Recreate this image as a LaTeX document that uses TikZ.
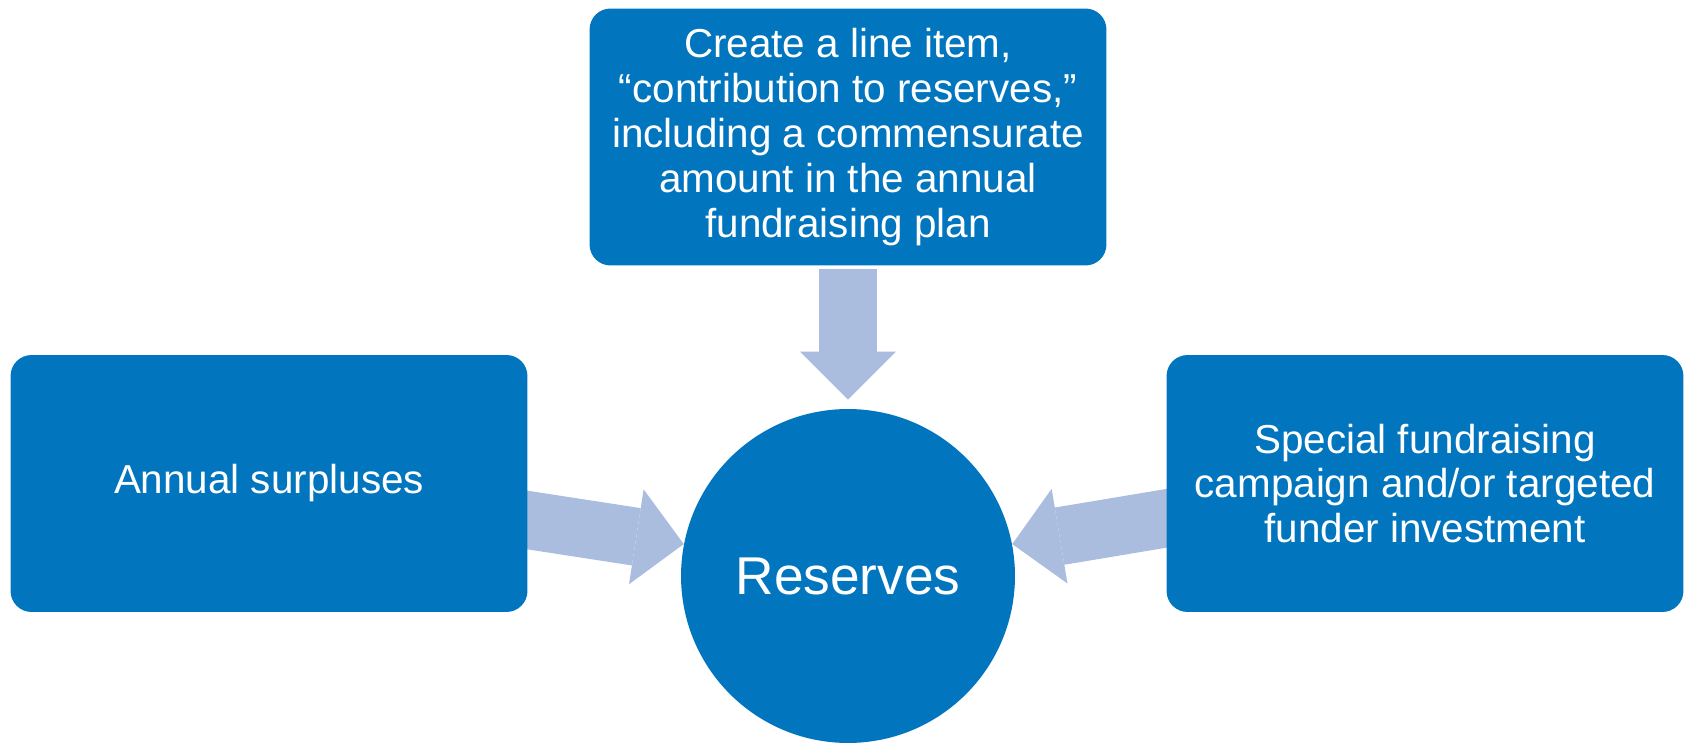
\documentclass[tikz,border=0pt]{standalone}
\usepackage{fontspec}
\setmainfont{Liberation Sans}
\usetikzlibrary{arrows.meta,positioning,backgrounds}
\definecolor{boxblue}{HTML}{0275BF}
\definecolor{feedblue}{HTML}{ABBDDE}

\begin{document}
\begin{tikzpicture}[
  x=0.02cm, y=-0.02cm,
  source/.style={fill=boxblue, text=white, rounded corners=0.42cm,
    minimum width=10.34cm, minimum height=5.14cm, inner sep=0pt,
    align=center, font=\fontsize{23}{25.5}\selectfont},
  pool/.style={circle, fill=boxblue, text=white, minimum size=6.68cm,
    inner sep=0pt, font=\fontsize{30.3}{34}\selectfont},
  feed/.style={draw=feedblue, line width=1.16cm,
    -{Triangle[width=1.92cm, length=0.96cm, line width=0pt]}},
]
  \useasboundingbox (0,0) rectangle (1684,743);

  \node[source] (plan) at (848,137) {Create a line item,\\
    ``contribution to reserves,''\\including a commensurate\\
    amount in the annual\\fundraising plan};
  \node[source] (surplus) at (269,483.5) {Annual surpluses};
  \node[source] (campaign) at (1425,483.5) {Special fundraising\\
    campaign and/or targeted\\funder investment};
  \node[pool] (reserves) at (848,576) {Reserves};

  % block arrows into the pool, tails tucked under the boxes
  \begin{pgfonlayer}{background}
    \draw[feed, shorten <=0.06cm, shorten >=0.18cm] (plan.south) -- (reserves.north);
    \draw[feed] ([xshift=-0.4cm, yshift=-0.67cm]surplus.east) -- (reserves.169);
    \draw[feed] ([xshift=0.4cm, yshift=-0.63cm]campaign.west) -- (reserves.11);
  \end{pgfonlayer}
\end{tikzpicture}
\end{document}
